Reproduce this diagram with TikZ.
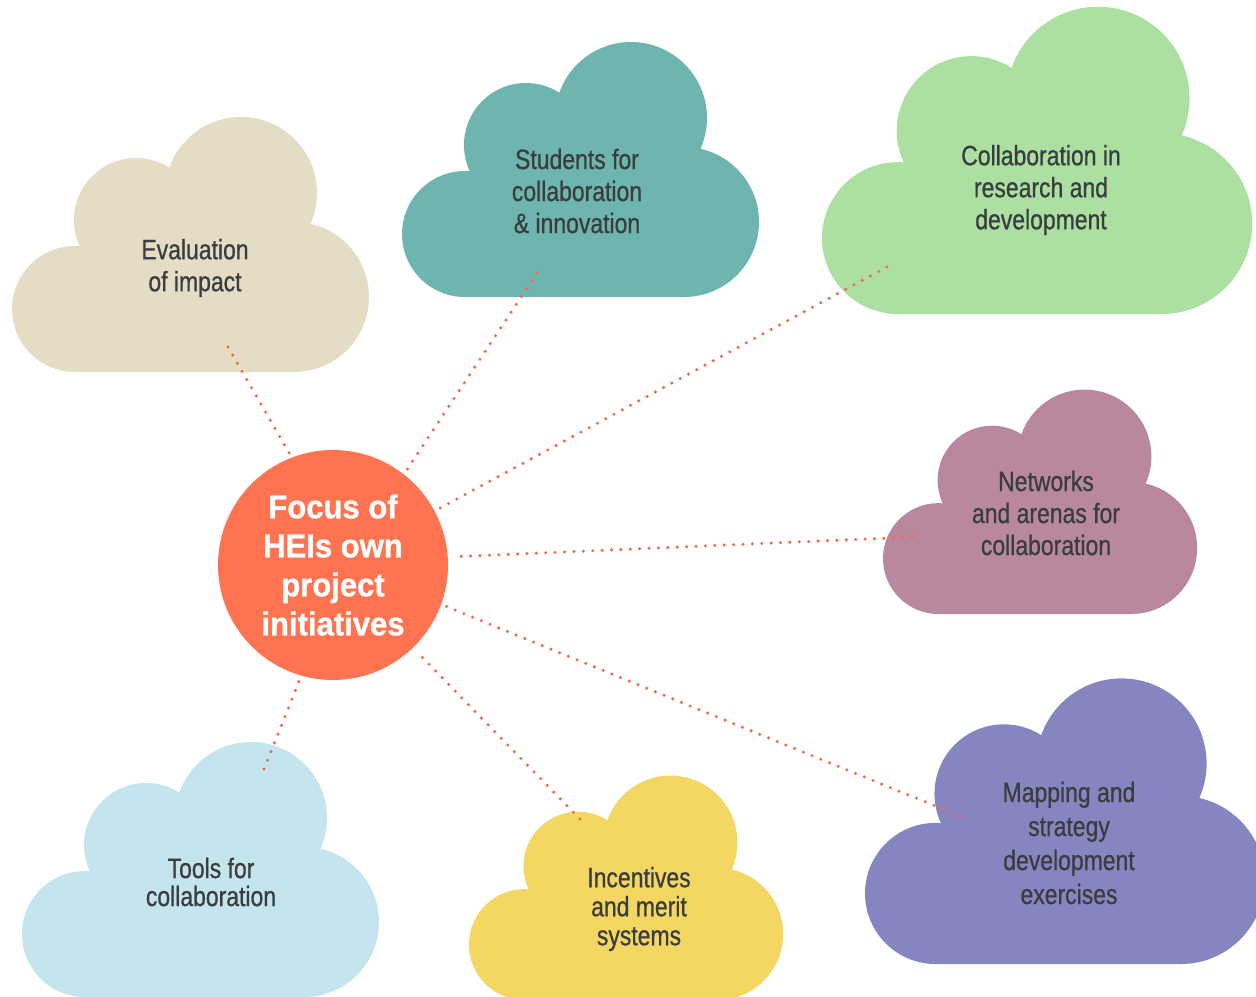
\documentclass[tikz,border=0pt]{standalone}
\usepackage{fontspec}
\setmainfont{Liberation Sans}[FakeStretch=0.82,FakeBold=0.7]
\newfontfamily\focusfont{Liberation Sans}[FakeStretch=0.94,FakeBold=0.8]
\definecolor{txtgrey}{HTML}{3A3D40}
\definecolor{focuscol}{HTML}{FF7350}
\definecolor{dotcol}{HTML}{F2694A}
\definecolor{cEval}{HTML}{E4DCC5}
\definecolor{cStud}{HTML}{6EB5B0}
\definecolor{cRD}{HTML}{ABE0A1}
\definecolor{cNet}{HTML}{B9889F}
\definecolor{cMap}{HTML}{8685BF}
\definecolor{cTool}{HTML}{C4E4EE}
\definecolor{cInc}{HTML}{F4D762}
% cloud: left x, bottom y, scale, colour
\newcommand{\mycloudshape}[4]{%
  \begin{scope}[shift={(#1,#2)},scale=#3]
    \fill[#4] (63,-63) circle[radius=63];
    \fill[#4] (124,-152) circle[radius=62];
    \fill[#4] (229,-179) circle[radius=76];
    \fill[#4] (282,-75) circle[radius=75];
    \fill[#4] (63,0) -- (282,0) -- (282,-75) -- (229,-179) -- (124,-152) -- (63,-63) -- cycle;
  \end{scope}}
\tikzset{
  cloudtext/.style={align=center, text=txtgrey, inner sep=0pt,
    font=\fontsize{14pt}{16pt}\selectfont},
  focusnode/.style={circle, fill=focuscol, minimum size=115pt, inner sep=0pt,
    align=center, text=white, font=\focusfont\bfseries\fontsize{16.5pt}{19.5pt}\selectfont},
  dotline/.style={dotcol, line width=1.7pt, line cap=round, dash pattern=on 0pt off 4.7pt, shorten >=2pt}
}
\begin{document}
\begin{tikzpicture}[x=0.5pt,y=-0.5pt]
\useasboundingbox (0,0) rectangle (1256,996);
\fill[white] (0,0) rectangle (1256,996);
% clouds
\mycloudshape{12}{372}{1}{cEval}
\mycloudshape{402}{297}{1}{cStud}
\mycloudshape{822}{314}{1.205}{cRD}
\mycloudshape{883}{614}{0.88}{cNet}
\mycloudshape{865}{964}{1.12}{cMap}
\mycloudshape{22}{997}{1}{cTool}
\mycloudshape{469}{1000}{0.88}{cInc}
% texts
\node[cloudtext] (tEval) at (195,268) {Evaluation\\of impact};
\node[cloudtext] (tStud) at (577,191) {Students for\\collaboration\\\& innovation};
\node[cloudtext] (tRD) at (1041,190) {Collaboration in\\research and\\development};
\node[cloudtext] (tNet) at (1046,513) {Networks\\and arenas for\\collaboration};
\node[cloudtext, font=\fontsize{14pt}{17pt}\selectfont] (tMap) at (1069,843) {Mapping and\\strategy\\development\\exercises};
\node[cloudtext, font=\fontsize{14pt}{14pt}\selectfont] (tTool) at (211,882) {Tools for\\collaboration};
\node[cloudtext, font=\fontsize{14pt}{14.5pt}\selectfont] (tInc) at (639,909) {Incentives\\and merit\\systems};
% centre
\node[focusnode] (focus) at (333,565) {Focus of\\HEIs own\\project\\initiatives};
% connector ends inside clouds
\coordinate (pEval) at (228,347);
\coordinate (pStud) at (537,273);
\coordinate (pRD) at (887,267);
\coordinate (pNet) at (912,537);
\coordinate (pMap) at (960,816);
\coordinate (pInc) at (580,819);
\coordinate (pTool) at (264,769);
\draw[dotline] (pEval) -- (focus.111.7);
\draw[dotline] (pStud) -- (focus.52);
\draw[dotline] (pRD) -- (focus.28);
\draw[dotline] (pNet) -- (focus.4.8);
\draw[dotline] (pMap) -- (focus.-20.7);
\draw[dotline] (pInc) -- (focus.-46.7);
\draw[dotline] (pTool) -- (focus.-106.2);
\end{tikzpicture}
\end{document}
